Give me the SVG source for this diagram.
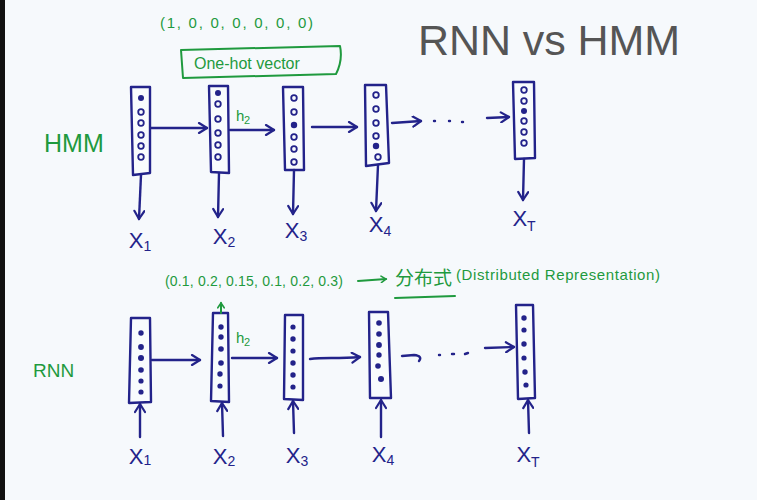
<svg xmlns="http://www.w3.org/2000/svg" width="757" height="500" viewBox="0 0 757 500">
<defs>
<style>
.ink{fill:none;stroke:#23238a;stroke-width:2.4;stroke-linecap:round;stroke-linejoin:round}
.gink{fill:none;stroke:#1f9a3e;stroke-width:2;stroke-linecap:round;stroke-linejoin:round}
.box{fill:#f8fbfd;stroke:#23238a;stroke-width:2.4;stroke-linejoin:round}
.o{fill:none;stroke:#23238a;stroke-width:1.8}
.f{fill:#23238a}
.lbl{font-family:"Liberation Sans",Arial,sans-serif;font-size:22px;fill:#23238a;text-anchor:middle}
.sub{font-size:14px}
.g{font-family:"Liberation Sans","Noto Sans CJK SC",sans-serif;fill:#1f9a3e}
</style>
<marker id="ah" viewBox="0 0 12 12" refX="10" refY="6" markerWidth="12" markerHeight="12" markerUnits="userSpaceOnUse" orient="auto">
<path d="M2,1 L10,6 L2,11" fill="none" stroke="#23238a" stroke-width="2.2" stroke-linecap="round" stroke-linejoin="round"/>
</marker>
<marker id="gah" viewBox="0 0 10 10" refX="8" refY="5" markerWidth="8" markerHeight="8" markerUnits="userSpaceOnUse" orient="auto">
<path d="M2,1 L8,5 L2,9" fill="none" stroke="#1f9a3e" stroke-width="2" stroke-linecap="round"/>
</marker>
</defs>
<rect width="757" height="500" fill="#f6f9fc"/>
<rect width="5" height="500" fill="#111"/>

<text x="418" y="55" font-family="Liberation Sans,Arial,sans-serif" font-size="43" fill="#555" textLength="262">RNN vs HMM</text>

<g id="hmm-label"><text class="g" x="44" y="152" font-size="25">HMM</text></g>
<g id="rnn-label"><text class="g" x="33" y="377" font-size="19">RNN</text></g>

<g id="onehot-note">
<text class="g" x="160" y="28" font-size="15" textLength="153">(1, 0, 0, 0, 0, 0, 0)</text>
<path class="gink" d="M181,50 L340,46 Q343,60 336,74 L183,78 Z"/>
<text class="g" x="194" y="69" font-size="16">One-hot vector</text>
</g>

<g id="distributed-note">
<text class="g" x="165" y="286" font-size="14" textLength="178">(0.1, 0.2, 0.15, 0.1, 0.2, 0.3)</text>
<path class="gink" d="M358,281 L386,279" marker-end="url(#gah)"/>
<text class="g" x="395" y="285" font-size="19">分布式</text>
<path class="gink" d="M395,298 L455,296"/>
<text class="g" x="456" y="280" font-size="15" textLength="204">(Distributed Representation)</text>
</g>

<g id="h2-hmm"><text class="g" x="236" y="121" font-size="15">h</text><text class="g" x="244" y="124" font-size="11">2</text></g>
<g id="h2-rnn"><text class="g" x="236" y="343" font-size="15">h</text><text class="g" x="244" y="346" font-size="11">2</text></g>

<!-- HMM nodes -->
<g id="hmm-h1">
<path class="box" d="M131,87 L150,87 L150,173 L133,175 Z"/>
<circle class="f" cx="141" cy="98" r="3"/>
<circle class="o" cx="141" cy="112" r="2.8"/><circle class="o" cx="141" cy="123" r="2.8"/><circle class="o" cx="141" cy="135" r="2.8"/><circle class="o" cx="141" cy="146" r="2.8"/><circle class="o" cx="141" cy="157" r="2.8"/>
</g>
<g id="hmm-h2">
<path class="box" d="M209,86 L228,86 L229,173 L211,172 Z"/>
<circle class="f" cx="218" cy="93" r="3"/>
<circle class="o" cx="218" cy="104" r="2.8"/><circle class="o" cx="218" cy="119" r="2.8"/><circle class="o" cx="218" cy="133" r="2.8"/><circle class="o" cx="218" cy="145" r="2.8"/><circle class="o" cx="218" cy="157" r="2.8"/>
</g>
<g id="hmm-h3">
<path class="box" d="M283,87 L303,87 L304,170 L285,170 Z"/>
<circle class="o" cx="294" cy="98" r="2.8"/><circle class="o" cx="294" cy="112" r="2.8"/>
<circle class="f" cx="294" cy="125" r="3.2"/>
<circle class="o" cx="294" cy="137" r="2.8"/><circle class="o" cx="294" cy="149" r="2.8"/><circle class="o" cx="294" cy="162" r="2.8"/>
</g>
<g id="hmm-h4">
<path class="box" d="M365,85 L386,85 L389,163 L366,166 Z"/>
<circle class="o" cx="376" cy="95" r="2.8"/><circle class="o" cx="376" cy="109" r="2.8"/><circle class="o" cx="376" cy="123" r="2.8"/><circle class="o" cx="376" cy="136" r="2.8"/>
<circle class="f" cx="376" cy="146" r="3.2"/>
<circle class="o" cx="378" cy="157" r="2.8"/>
</g>
<g id="hmm-hT">
<path class="box" d="M513,82 L534,82 L535,158 L515,159 Z"/>
<circle class="o" cx="524" cy="90" r="2.8"/><circle class="o" cx="524" cy="101" r="2.8"/>
<circle class="f" cx="524" cy="111" r="3"/>
<circle class="o" cx="524" cy="121" r="2.8"/><circle class="o" cx="524" cy="132" r="2.8"/><circle class="o" cx="524" cy="143" r="2.8"/>
</g>

<g id="hmm-x1"><text class="lbl" x="140" y="248">X<tspan class="sub" dy="3">1</tspan></text></g>
<g id="hmm-x2"><text class="lbl" x="224" y="244">X<tspan class="sub" dy="3">2</tspan></text></g>
<g id="hmm-x3"><text class="lbl" x="296" y="238">X<tspan class="sub" dy="3">3</tspan></text></g>
<g id="hmm-x4"><text class="lbl" x="380" y="232">X<tspan class="sub" dy="4">4</tspan></text></g>
<g id="hmm-xT"><text class="lbl" x="524" y="226">X<tspan class="sub" dy="5">T</tspan></text></g>

<!-- RNN nodes -->
<g id="rnn-h1">
<path class="box" d="M131,318 L150,318 L151,402 L129,403 Z"/>
<circle class="f" cx="141" cy="333" r="2.7"/><circle class="f" cx="141" cy="347" r="2.9"/><circle class="f" cx="141" cy="358" r="3"/><circle class="f" cx="141" cy="370" r="2.8"/><circle class="f" cx="141" cy="381" r="2.6"/><circle class="f" cx="141" cy="392" r="2.6"/>
</g>
<g id="rnn-h2">
<path class="box" d="M213,313 L228,313 L229,402 L211,401 Z"/>
<circle class="f" cx="221" cy="327" r="2.7"/><circle class="f" cx="221" cy="337" r="2.7"/><circle class="f" cx="221" cy="349" r="2.8"/><circle class="f" cx="221" cy="363" r="2.8"/><circle class="f" cx="220" cy="374" r="2.7"/><circle class="f" cx="220" cy="386" r="2.6"/>
</g>
<g id="rnn-h3">
<path class="box" d="M285,315 L303,315 L303,400 L284,399 Z"/>
<circle class="f" cx="293" cy="327" r="2.6"/><circle class="f" cx="293" cy="339" r="2.7"/><circle class="f" cx="293" cy="351" r="2.6"/><circle class="f" cx="293" cy="363" r="2.7"/><circle class="f" cx="293" cy="375" r="2.7"/><circle class="f" cx="293" cy="387" r="2.6"/>
</g>
<g id="rnn-h4">
<path class="box" d="M369,312 L388,312 L391,398 L370,398 Z"/>
<circle class="f" cx="379" cy="323" r="2.8"/><circle class="f" cx="379" cy="334" r="2.8"/><circle class="f" cx="379" cy="345" r="2.9"/><circle class="f" cx="379" cy="355" r="2.7"/><circle class="f" cx="378" cy="366" r="2.8"/><circle class="f" cx="381" cy="379" r="3"/>
</g>
<g id="rnn-hT">
<path class="box" d="M516,305 L533,305 L535,398 L518,399 Z"/>
<circle class="f" cx="524" cy="318" r="2.7"/><circle class="f" cx="524" cy="330" r="2.6"/><circle class="f" cx="524" cy="344" r="2.7"/><circle class="f" cx="524" cy="358" r="2.6"/><circle class="f" cx="525" cy="372" r="2.7"/><circle class="f" cx="526" cy="385" r="2.6"/>
</g>

<g id="rnn-x1"><text class="lbl" x="140" y="464">X<tspan class="sub" dy="1">1</tspan></text></g>
<g id="rnn-x2"><text class="lbl" x="224" y="464">X<tspan class="sub" dy="2">2</tspan></text></g>
<g id="rnn-x3"><text class="lbl" x="297" y="463">X<tspan class="sub" dy="3">3</tspan></text></g>
<g id="rnn-x4"><text class="lbl" x="383" y="462">X<tspan class="sub" dy="3">4</tspan></text></g>
<g id="rnn-xT"><text class="lbl" x="528" y="462">X<tspan class="sub" dy="5">T</tspan></text></g>

<g id="connectors">
<path class="ink" d="M151,128 L207,128" marker-end="url(#ah)"/>
<path class="ink" d="M230,130 L274,130" marker-end="url(#ah)"/>
<path class="ink" d="M312,127 L357,127" marker-end="url(#ah)"/>
<path class="ink" d="M392,123 L421,121" marker-end="url(#ah)"/>
<path class="ink" d="M434,121 L435,121 M449,121 L450,121 M462,122 L463,122"/>
<path class="ink" d="M487,118 L509,117" marker-end="url(#ah)"/>
<path class="ink" d="M141,175 L139,219" marker-end="url(#ah)"/>
<path class="ink" d="M219,173 L218,217" marker-end="url(#ah)"/>
<path class="ink" d="M294,170 L293,214" marker-end="url(#ah)"/>
<path class="ink" d="M378,165 L376,211" marker-end="url(#ah)"/>
<path class="ink" d="M524,159 L523,200" marker-end="url(#ah)"/>
<path class="ink" d="M152,360 L200,360" marker-end="url(#ah)"/>
<path class="ink" d="M232,358 L277,358" marker-end="url(#ah)"/>
<path class="ink" d="M310,359 C325,357 335,359 360,357" marker-end="url(#ah)"/>
<path class="ink" d="M402,356 L414,355 Q423,356 419,361"/>
<path class="ink" d="M439,355 L440,355 M452,354 L454,354 M465,354 L468,353"/>
<path class="ink" d="M485,348 L514,347" marker-end="url(#ah)"/>
<path class="ink" d="M140,437 L140,404" marker-end="url(#ah)"/>
<path class="ink" d="M223,436 L222,403" marker-end="url(#ah)"/>
<path class="ink" d="M294,433 L293,401" marker-end="url(#ah)"/>
<path class="ink" d="M381,437 L381,400" marker-end="url(#ah)"/>
<path class="ink" d="M529,433 L528,400" marker-end="url(#ah)"/>
<path class="gink" d="M221,313 L221,303" marker-end="url(#gah)"/>
</g>
</svg>
